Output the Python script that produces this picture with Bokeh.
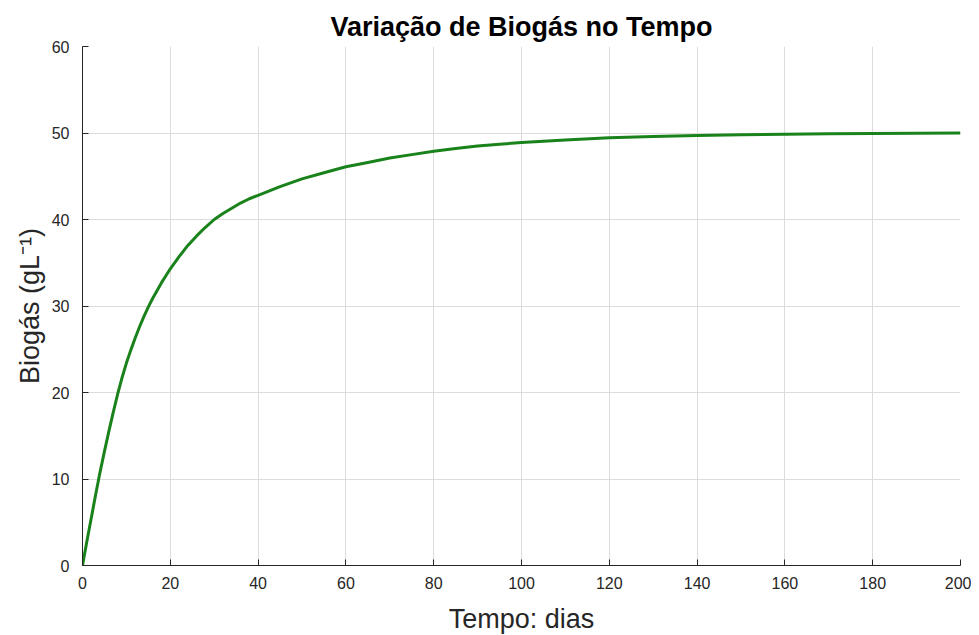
from bokeh.plotting import figure
from bokeh.models import FixedTicker, Range1d
from bokeh.embed import file_html
from bokeh.resources import INLINE

# Data
tempo = [0, 1, 2, 3, 4, 5, 6, 7, 8, 9, 10, 11, 12, 13, 14, 15, 16, 17, 18, 19,
         20, 22, 24, 26, 28, 30, 32, 34, 36, 38, 40, 45, 50, 55, 60, 65, 70, 75,
         80, 85, 90, 95, 100, 110, 120, 130, 140, 150, 160, 170, 180, 190, 200]
biogas = [0, 2.8, 5.5, 8.2, 10.8, 13.2, 15.5, 17.7, 19.8, 21.7, 23.4, 24.9,
          26.3, 27.6, 28.8, 29.9, 30.9, 31.8, 32.7, 33.5,
          34.3, 35.7, 37.0, 38.1, 39.1, 40.0, 40.7, 41.3, 41.9, 42.4, 42.8,
          43.8, 44.7, 45.4, 46.1, 46.6, 47.1, 47.5,
          47.9, 48.2, 48.5, 48.7, 48.9, 49.2, 49.45, 49.6, 49.7, 49.8, 49.85,
          49.9, 49.95, 49.98, 50.0]
x_ticks = [0, 20, 40, 60, 80, 100, 120, 140, 160, 180, 200]
y_ticks = [0, 10, 20, 30, 40, 50, 60]

FONT = "Liberation Sans"
DARK = "#262626"

p = figure(
    output_backend="svg", toolbar_location=None,
    frame_width=878, frame_height=519,
    x_range=Range1d(0, 200), y_range=Range1d(0, 60),
    min_border_left=82, min_border_right=11, min_border_top=46, min_border_bottom=64,
    title="Variação de Biogás no Tempo",
)
p.background_fill_color = "white"
p.border_fill_color = "white"
p.outline_line_color = None

p.title.align = "center"
p.title.text_font = FONT
p.title.text_font_style = "bold"
p.title.text_font_size = "27px"
p.title.text_color = "#000000"

p.line(tempo, biogas, line_color="#1a821a", line_width=3)

for ax, ticks in ((p.xaxis, x_ticks), (p.yaxis, y_ticks)):
    ax.ticker = FixedTicker(ticks=ticks)
    ax.major_tick_in = 6
    ax.major_tick_out = 0
    ax.minor_tick_line_color = None
    ax.axis_line_color = DARK
    ax.axis_line_width = 1
    ax.major_tick_line_color = DARK
    ax.major_label_text_font = FONT
    ax.major_label_text_font_size = "16px"
    ax.major_label_text_color = DARK
    ax.axis_label_text_font = FONT
    ax.axis_label_text_font_size = "27px"
    ax.axis_label_text_font_style = "normal"
    ax.axis_label_text_color = DARK

p.xaxis.major_label_standoff = 11
p.xaxis.axis_label_standoff = 12
p.yaxis.major_label_standoff = 13
p.yaxis.axis_label_standoff = 4

p.xaxis.axis_label = "Tempo: dias"
p.yaxis.axis_label = "Biogás (gL⁻¹)"

p.grid.grid_line_color = "#dcdcdc"
p.grid.grid_line_width = 1
p.xgrid.ticker = FixedTicker(ticks=x_ticks)
p.ygrid.ticker = FixedTicker(ticks=y_ticks)

open("out.html", "w").write(file_html(p, INLINE))
